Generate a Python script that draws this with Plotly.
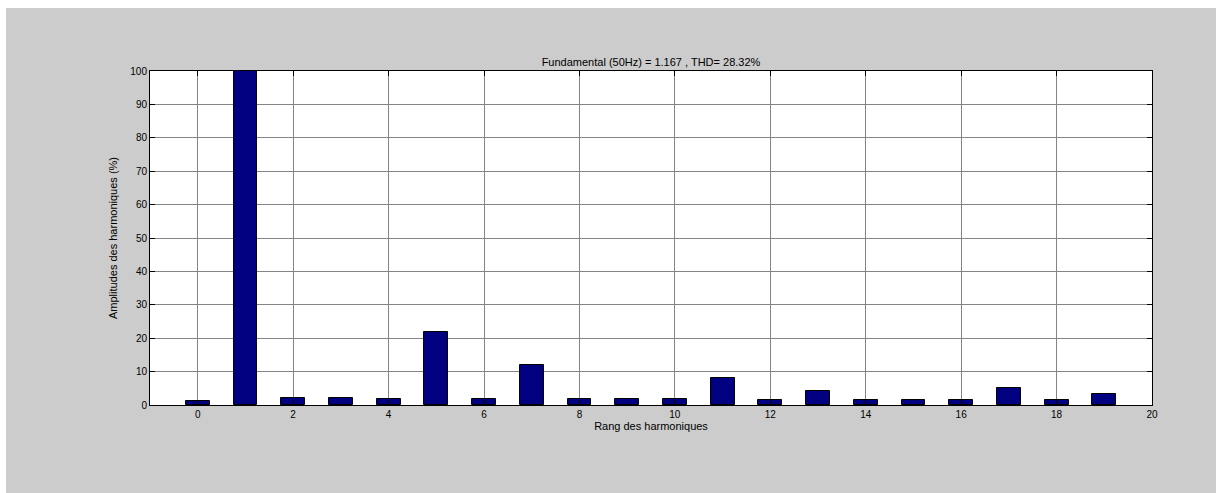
import plotly.graph_objects as go

# Harmonic spectrum (percent of fundamental)
harmonic_order = list(range(20))
amplitude_pct = [1.2, 100, 2.0, 2.0, 1.7, 21.8, 1.7, 11.9, 1.7, 1.7,
                 1.7, 8.2, 1.5, 4.2, 1.5, 1.5, 1.5, 5.1, 1.5, 3.2]
x_ticks = list(range(0, 21, 2))
y_ticks = list(range(0, 101, 10))

title_text = "Fundamental (50Hz) = 1.167 , THD= 28.32%"
x_title = "Rang des harmoniques"
y_title = "Amplitudes des harmoniques (%)"

W, H = 1216, 493
L, R, T, B = 150, 64, 71, 88
pw, ph = W - L - R, H - T - B

font_family = "Liberation Sans, Arial, sans-serif"

fig = go.Figure()
fig.add_trace(go.Bar(
    x=harmonic_order, y=amplitude_pct, width=0.5,
    marker=dict(color="#000080", line=dict(color="#000000", width=1)),
))

axis_common = dict(
    showline=True, linecolor="#000000", linewidth=1, mirror="ticks",
    ticks="inside", ticklen=5, tickcolor="#000000", tickwidth=1,
    showgrid=True, gridcolor="#858585", gridwidth=1, zeroline=False,
    tickfont=dict(family=font_family, size=10, color="#000000"),
)

fig.update_xaxes(range=[-1, 20], tickvals=x_ticks,
                 title=dict(text=x_title, standoff=3,
                            font=dict(family=font_family, size=11, color="#000000")),
                 **axis_common)
fig.update_yaxes(range=[0, 100], tickvals=y_ticks,
                 title=dict(text=y_title, standoff=10,
                            font=dict(family=font_family, size=11, color="#000000")),
                 **axis_common)

# White strips along the top and left edges of the grey figure window
fig.add_shape(type="rect", xref="paper", yref="paper", layer="below",
              x0=-L / pw, x1=(W - L) / pw, y0=1 + (T - 8) / ph, y1=1 + T / ph,
              fillcolor="#ffffff", line=dict(width=0))
fig.add_shape(type="rect", xref="paper", yref="paper", layer="below",
              x0=-L / pw, x1=-(L - 6) / pw, y0=-B / ph, y1=1 + T / ph,
              fillcolor="#ffffff", line=dict(width=0))

fig.update_layout(
    width=W, height=H,
    margin=dict(l=L, r=R, t=T, b=B),
    paper_bgcolor="#cccccc", plot_bgcolor="#ffffff",
    showlegend=False,
    title=dict(text=title_text, x=(L + pw / 2) / W, xanchor="center",
               y=1 - 62 / H, yanchor="middle",
               font=dict(family=font_family, size=11, color="#000000")),
    bargap=0,
)

fig.write_html("out.html")
